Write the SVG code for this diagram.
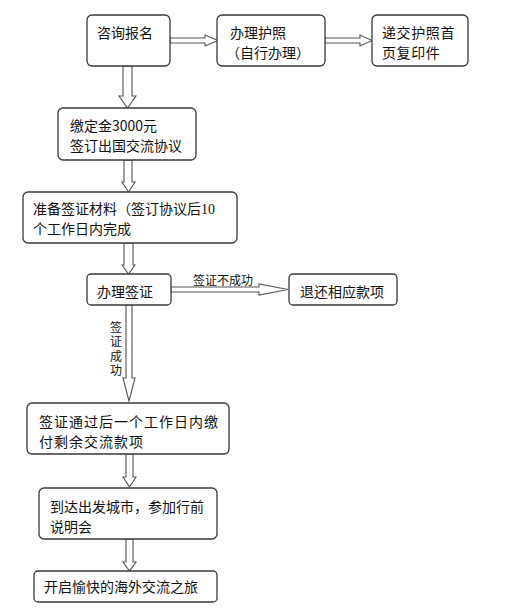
<svg xmlns="http://www.w3.org/2000/svg" width="525" height="610" viewBox="0 0 525 610">
<style>
.box{fill:#fff;stroke:#3a3a3a;stroke-width:1.3}
.t{font-family:"Noto Sans CJK SC","Noto Sans",sans-serif;font-size:14px;fill:#111}
.s{font-family:"Noto Sans CJK SC","Noto Sans",sans-serif;font-size:12px;fill:#111}
.arr{fill:#fff;stroke:#555;stroke-width:1.1;stroke-linejoin:miter}
</style>
<rect width="525" height="610" fill="#fff"/>
<g id="connectors">
<polygon class="arr" points="170,38 205,38 205,35 218,40.5 205,46 205,43 170,43"/>
<polygon class="arr" points="325,38 360,38 360,35 372,40.5 360,46 360,43 325,43"/>
<polygon class="arr" points="123,66 132,66 132,96 136,96 127.5,108 119,96 123,96"/>
<polygon class="arr" points="124,160 132,160 132,182 135,182 128.5,192 122,182 124,182"/>
<polygon class="arr" points="124,243 133,243 133,265 135,265 128.5,274 122,265 124,265"/>
<polygon class="arr" points="171,287 259,287 259,284 288,289.5 259,295 259,292 171,292"/>
<polygon class="arr" points="126,305 132,305 132,378 135,378 129,401 123,378 126,378"/>
<polygon class="arr" points="126,454 133,454 133,477 136,477 129.5,487 123,477 126,477"/>
<polygon class="arr" points="126,539 133,539 133,562 136,562 129.5,571 123,562 126,562"/>
<text class="s" x="193" y="285">签证不成功</text>
<text class="s" x="116" y="321" style="writing-mode:vertical-rl" letter-spacing="2.5">签证成功</text>
</g>
<g id="n1"><rect class="box" x="87" y="15" width="83" height="51" rx="5"/><text class="t" x="97" y="38">咨询报名</text></g>
<g id="n2"><rect class="box" x="217" y="15" width="108" height="51" rx="5"/><text class="t" x="230" y="38">办理护照</text><text class="t" x="226" y="58">（自行办理）</text></g>
<g id="n3"><rect class="box" x="372" y="15" width="96" height="51" rx="5"/><text class="t" x="382" y="38" letter-spacing="0.6">递交护照首</text><text class="t" x="382" y="58" letter-spacing="0.6">页复印件</text></g>
<g id="n4"><rect class="box" x="58" y="108" width="138" height="52" rx="5"/><text class="t" x="70" y="131">缴定金3000元</text><text class="t" x="70" y="151">签订出国交流协议</text></g>
<g id="n5"><rect class="box" x="23" y="192" width="214" height="51" rx="5"/><text class="t" x="33" y="214">准备签证材料（签订协议后<tspan font-family="Liberation Serif, serif">10</tspan></text><text class="t" x="33" y="234">个工作日内完成</text></g>
<g id="n6"><rect class="box" x="87" y="274" width="84" height="31" rx="4"/><text class="t" x="97" y="297">办理签证</text></g>
<g id="n7"><rect class="box" x="289" y="274" width="108" height="31" rx="4"/><text class="t" x="300" y="297">退还相应款项</text></g>
<g id="n8"><rect class="box" x="27" y="403" width="202" height="51" rx="5"/><text class="t" x="39" y="427" letter-spacing="1">签证通过后一个工作日内缴</text><text class="t" x="39" y="447" letter-spacing="1">付剩余交流款项</text></g>
<g id="n9"><rect class="box" x="39" y="488" width="178" height="51" rx="5"/><text class="t" x="50" y="512">到达出发城市，参加行前</text><text class="t" x="50" y="532">说明会</text></g>
<g id="n10"><rect class="box" x="34" y="571" width="183" height="31" rx="4"/><text class="t" x="44" y="592">开启愉快的海外交流之旅</text></g>
</svg>
